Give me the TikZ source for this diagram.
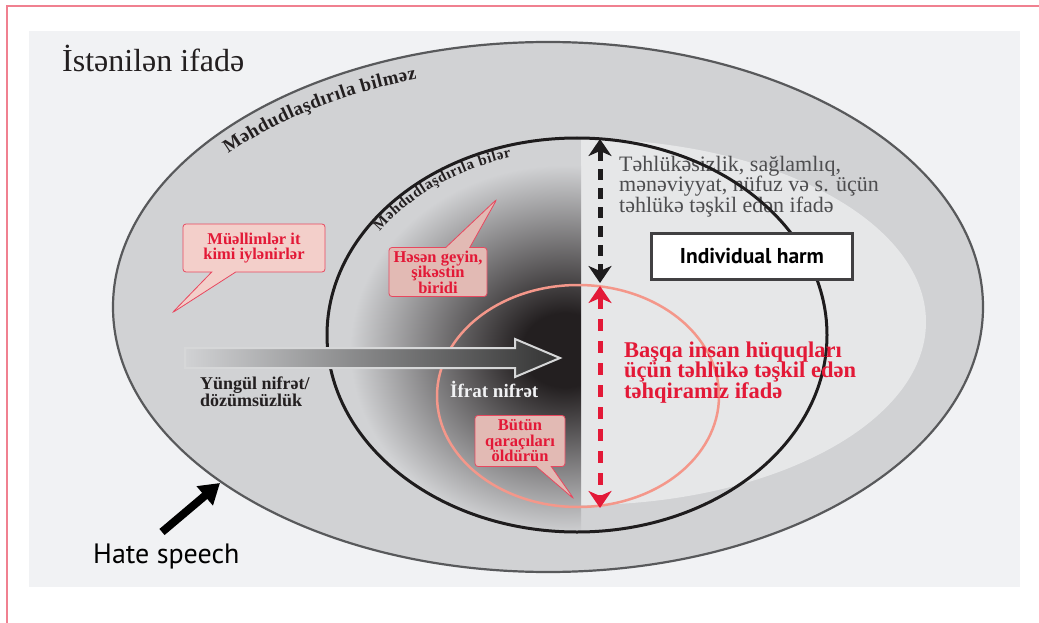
\documentclass[tikz,border=0pt]{standalone}
\usepackage{fontspec}
\setmainfont{Liberation Serif}
\newfontfamily\harmsans{PT Sans}
\usetikzlibrary{arrows.meta,shapes.callouts,decorations.text}

\definecolor{framepink}{RGB}{240,128,144}
\definecolor{paper}{RGB}{241,242,244}
\definecolor{bandgray}{RGB}{209,210,212}
\definecolor{lightzone}{RGB}{230,231,232}
\definecolor{rimgray}{RGB}{88,89,91}
\definecolor{ringblack}{RGB}{30,28,29}
\definecolor{coreblack}{RGB}{35,31,32}
\definecolor{salmon}{RGB}{244,151,138}
\definecolor{alertred}{RGB}{227,25,55}
\definecolor{calloutline}{RGB}{232,72,95}
\definecolor{pinkpale}{RGB}{243,207,202}
\definecolor{pinkdim}{RGB}{226,186,180}
\definecolor{inkdark}{RGB}{35,31,32}
\definecolor{textgray}{RGB}{77,77,79}
\definecolor{boxgray}{RGB}{65,64,66}
\definecolor{shaftline}{RGB}{214,215,216}

\pgfdeclareradialshading{hatecore}{\pgfpoint{0bp}{0bp}}{color(0bp)=(coreblack); color(5bp)=(coreblack); color(25bp)=(bandgray); color(50bp)=(bandgray)}

\begin{document}
\begin{tikzpicture}[
    x=1pt, y=-1pt,
    every node/.style={inner sep=0pt, anchor=base west, align=left},
    rim/.style={draw=rimgray, line width=2.2pt},
    ring/.style={draw=ringblack, line width=3pt},
    hotring/.style={draw=salmon, line width=2.5pt},
    arctext/.style={decorate, decoration={text along path, text align=fit to path}},
    bubble/.style={rectangle callout, draw=calloutline, line width=0.8pt, fill=#1,
        rounded corners=3pt, anchor=center, align=center, text=alertred,
        font=\bfseries\fontsize{16.5}{15.5}\selectfont},
    guard/.style={line width=5pt, dash pattern=on 11pt off 8pt,
        {Stealth[length=17pt,width=23pt,inset=5pt]}-{Stealth[length=17pt,width=23pt,inset=5pt]}},
]
\useasboundingbox (0,0) rectangle (1039,623);
\fill[white] (0,0) rectangle (1039,623);
\draw[framepink, line width=1.5pt] (7,623) -- (7,6) -- (1039,6);
\fill[paper] (29,31) rectangle (1020,587);

% zones
\fill[bandgray] (548,307) ellipse [x radius=435, y radius=265];
\fill[lightzone] (581,139) -- (581,505) arc[start angle=90, end angle=-90, x radius=345, y radius=183] -- cycle;
\begin{scope}
    \clip (577,335) ellipse [x radius=250, y radius=197];
    \clip (0,0) rectangle (581,623);
    \shade[shading=hatecore] (565,350) ellipse [x radius=215, y radius=185];
\end{scope}

\node[font=\fontsize{22}{20.5}\selectfont, text=textgray] (threat) at (619,212)
    {Təhlükəsizlik, sağlamlıq,\\ mənəviyyat, nüfuz və s. üçün\\ təhlükə təşkil edən ifadə};

\draw[hotring] (578,396) ellipse [x radius=141, y radius=111];
\draw[ring] (577,335) ellipse [x radius=250, y radius=197];
\draw[rim] (548,307) ellipse [x radius=435, y radius=265];

% labels on the rings
\path[arctext, decoration={text={|\bfseries\fontsize{19}{19}\selectfont\color{inkdark}|Məhdudlaşdırıla bilməz}}]
    plot[domain=219.6:251.6, samples=40] ({548+415*cos(\x)}, {307+240*sin(\x)});
\path[arctext, decoration={text={|\bfseries\fontsize{15}{15}\selectfont\color{inkdark}|Məhdudlaşdırıla bilər}}]
    plot[domain=214:254, samples=40] ({577+238*cos(\x)}, {335+185*sin(\x)});

% hate arrow across
\draw[shaftline, line width=2pt, left color=bandgray, right color=black!80]
    (185,348) -- (515,348) -- (515,339) -- (560,358) -- (515,377) -- (515,368) -- (185,368) -- cycle;

\node[draw=boxgray, line width=3pt, fill=white, minimum width=201pt, minimum height=46pt,
    anchor=center, font=\harmsans\bfseries\fontsize{21.5}{22}\selectfont] (harm) at (752,256) {Individual harm};

\coordinate (limtop) at (600,139);
\coordinate (limend) at (600,283);
\coordinate (hottop) at (600,286);
\coordinate (hotend) at (600,508);
\draw[guard, draw=ringblack] (limtop) -- (limend);
\draw[guard, draw=alertred, dash pattern=on 12pt off 10pt] (hottop) -- (hotend);

\node[font=\bfseries\fontsize{22.5}{20.5}\selectfont, text=alertred] (rights) at (624,398)
    {Başqa insan hüquqları\\ üçün təhlükə təşkil edən\\ təhqiramiz ifadə};

\node[font=\fontsize{32}{32}\selectfont, text=inkdark] (anyspeech) at (62,72) {İstənilən ifadə};
\node[font=\bfseries\fontsize{18}{17}\selectfont, text=inkdark] (mild) at (200,406) {Yüngül nifrət/\\ dözümsüzlük};
\node[font=\bfseries\fontsize{19}{19}\selectfont, text=paper] (extreme) at (450,397) {İfrat nifrət};

% speech bubbles
\node[bubble=pinkpale, minimum width=142pt, minimum height=48pt,
    callout absolute pointer={(172,313)}, callout pointer width=24pt] (teachers) at (254,248)
    {Müəllimlər it\\ kimi iylənirlər};
\node[bubble=pinkdim, minimum width=98pt, minimum height=49pt,
    callout absolute pointer={(497,199)}, callout pointer width=24pt] (hasan) at (438,272)
    {Həsən geyin,\\ şikəstin\\ biridi};
\node[bubble=pinkdim, minimum width=90pt, minimum height=51pt,
    callout absolute pointer={(574,499)}, callout pointer width=15pt] (gypsies) at (520,441)
    {Bütün\\ qaraçıları\\ öldürün};

% hate speech pointer
\node[font=\harmsans\fontsize{28}{28}\selectfont, text=black] (hate) at (93,563) {Hate speech};
\coordinate (hatetail) at (162,532);
\coordinate (hatetip) at (220,483);
\draw[black, line width=8pt, -{Triangle[length=20pt,width=24pt]}] (hatetail) -- (hatetip);
\end{tikzpicture}
\end{document}
